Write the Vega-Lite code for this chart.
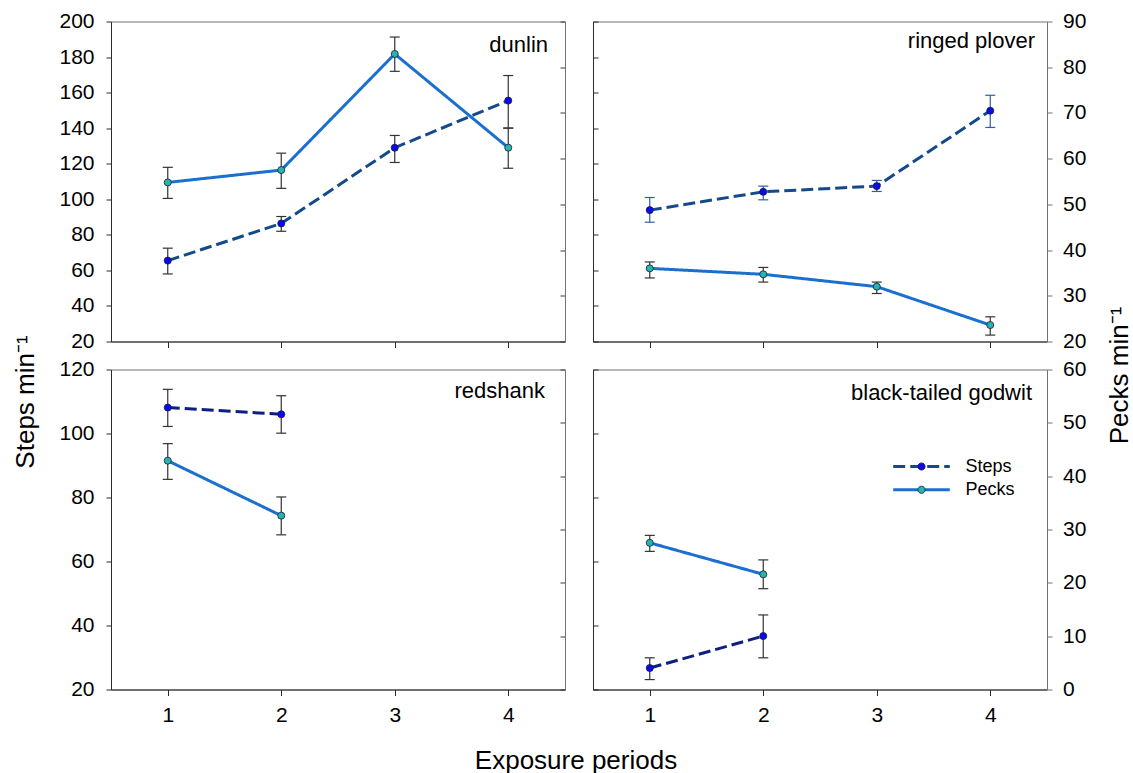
{
  "$schema": "https://vega.github.io/schema/vega-lite/v6.json",
  "background": "white",
  "padding": {"left": 12, "top": 9.5, "right": 0, "bottom": 2},
  "datasets": {
    "birds": [
      {"species": "dunlin", "period": 1, "measure": "Steps", "mean": 65.5, "lo": 58.0, "hi": 72.5},
      {"species": "dunlin", "period": 2, "measure": "Steps", "mean": 86.4, "lo": 82.0, "hi": 90.3},
      {"species": "dunlin", "period": 3, "measure": "Steps", "mean": 129.0, "lo": 120.7, "hi": 135.9},
      {"species": "dunlin", "period": 4, "measure": "Steps", "mean": 155.5, "lo": 140.0, "hi": 169.6},
      {"species": "dunlin", "period": 1, "measure": "Pecks", "mean": 54.8, "lo": 51.3, "hi": 58.1},
      {"species": "dunlin", "period": 2, "measure": "Pecks", "mean": 57.5, "lo": 53.5, "hi": 61.2},
      {"species": "dunlin", "period": 3, "measure": "Pecks", "mean": 82.9, "lo": 79.1, "hi": 86.6},
      {"species": "dunlin", "period": 4, "measure": "Pecks", "mean": 62.4, "lo": 57.9, "hi": 66.7},
      {"species": "ringed plover", "period": 1, "measure": "Steps", "mean": 93.9, "lo": 87.1, "hi": 101.0},
      {"species": "ringed plover", "period": 2, "measure": "Steps", "mean": 104.2, "lo": 99.7, "hi": 107.4},
      {"species": "ringed plover", "period": 3, "measure": "Steps", "mean": 107.4, "lo": 104.4, "hi": 110.6},
      {"species": "ringed plover", "period": 4, "measure": "Steps", "mean": 149.8, "lo": 140.4, "hi": 158.5},
      {"species": "ringed plover", "period": 1, "measure": "Pecks", "mean": 36.0, "lo": 33.9, "hi": 37.4},
      {"species": "ringed plover", "period": 2, "measure": "Pecks", "mean": 34.7, "lo": 33.0, "hi": 36.2},
      {"species": "ringed plover", "period": 3, "measure": "Pecks", "mean": 32.0, "lo": 30.5, "hi": 33.0},
      {"species": "ringed plover", "period": 4, "measure": "Pecks", "mean": 23.6, "lo": 21.4, "hi": 25.4},
      {"species": "redshank", "period": 1, "measure": "Steps", "mean": 108.1, "lo": 102.2, "hi": 113.8},
      {"species": "redshank", "period": 2, "measure": "Steps", "mean": 106.0, "lo": 100.1, "hi": 111.8},
      {"species": "redshank", "period": 1, "measure": "Pecks", "mean": 42.9, "lo": 39.4, "hi": 46.1},
      {"species": "redshank", "period": 2, "measure": "Pecks", "mean": 32.6, "lo": 29.0, "hi": 36.1},
      {"species": "black-tailed godwit", "period": 1, "measure": "Steps", "mean": 26.7, "lo": 23.1, "hi": 29.9},
      {"species": "black-tailed godwit", "period": 2, "measure": "Steps", "mean": 36.7, "lo": 29.9, "hi": 43.3},
      {"species": "black-tailed godwit", "period": 1, "measure": "Pecks", "mean": 27.5, "lo": 25.9, "hi": 28.9},
      {"species": "black-tailed godwit", "period": 2, "measure": "Pecks", "mean": 21.6, "lo": 18.9, "hi": 24.3}
    ]
  },
  "data": {"name": "birds"},
  "columns": 2,
  "spacing": 28,
  "bounds": "flush",
  "concat": [
    {
      "width": 454, "height": 320,
      "title": {"text": "dunlin", "dx": -17, "dy": 50.5},
      "transform": [{"filter": "datum.species === 'dunlin'"}],
      "encoding": {
        "x": {"field": "period", "type": "quantitative", "scale": {"domain": [0.5, 4.5], "nice": false, "zero": false},
              "axis": {"values": [1, 2, 3, 4], "labels": false, "title": null, "tickSize": 6}}
      },
      "layer": [
        {
          "transform": [{"filter": "datum.measure === 'Steps'"}],
          "layer": [
            {"mark": {"type": "rule", "color": "#333333", "strokeWidth": 1.2},
             "encoding": {"y": {"field": "lo", "type": "quantitative", "scale": {"domain": [20, 200], "nice": false},
                                "axis": {"orient": "left", "values": [20, 40, 60, 80, 100, 120, 140, 160, 180, 200], "tickCount": 20,
                                         "title": "Steps min⁻¹", "tickSize": 5, "labelPadding": 12,
                                         "titleAngle": 270, "titleX": -77.5, "titleY": 380, "titleAlign": "center", "titleBaseline": "alphabetic"}},
                          "y2": {"field": "hi"}}},
            {"mark": {"type": "tick", "orient": "horizontal", "size": 10, "thickness": 1.2, "color": "#333333", "opacity": 1},
             "encoding": {"y": {"field": "lo", "type": "quantitative", "scale": {"domain": [20, 200], "nice": false}}}},
            {"mark": {"type": "tick", "orient": "horizontal", "size": 10, "thickness": 1.2, "color": "#333333", "opacity": 1},
             "encoding": {"y": {"field": "hi", "type": "quantitative", "scale": {"domain": [20, 200], "nice": false}}}},
            {"mark": {"type": "line", "strokeWidth": 3},
             "encoding": {
               "y": {"field": "mean", "type": "quantitative", "scale": {"domain": [20, 200], "nice": false}},
               "color": {"field": "measure", "type": "nominal", "scale": {"domain": ["Steps", "Pecks"], "range": ["#154a8a", "#1a6fcf"]},
                         "legend": {"orient": "none", "legendX": 801.5, "legendY": 436, "title": null, "values": ["Steps", "Pecks"],
                                    "symbolType": "M-5,0H5", "symbolSize": 128, "symbolStrokeWidth": 3, "symbolOpacity": 1,
                                    "labelFontSize": 18, "labelOffset": 35, "rowPadding": 5.3, "padding": 0}},
               "strokeDash": {"field": "measure", "type": "nominal", "scale": {"domain": ["Steps", "Pecks"], "range": [[12, 5], [1, 0]]}}
             }},
            {"mark": {"type": "point", "filled": true, "size": 50, "opacity": 1, "stroke": "#1b1b3b", "strokeWidth": 0.8},
             "encoding": {
               "y": {"field": "mean", "type": "quantitative", "scale": {"domain": [20, 200], "nice": false}},
               "fill": {"field": "measure", "type": "nominal", "scale": {"domain": ["Pecks", "Steps"], "range": ["#25b5ad", "#0a0aee"]},
                        "legend": {"orient": "none", "legendX": 801.5, "legendY": 436, "title": null, "values": ["Steps", "Pecks"],
                                   "symbolType": "M0.64,0A0.64,0.64,0,1,1,-0.64,0A0.64,0.64,0,1,1,0.64,0Z", "symbolSize": 128,
                                   "symbolStrokeColor": "#1b1b3b", "symbolStrokeWidth": 0.8, "symbolOpacity": 1,
                                   "labelFontSize": 18, "labelOffset": 35, "labelOpacity": 0, "rowPadding": 5.3, "padding": 0}}
             }}
          ]
        },
        {
          "transform": [{"filter": "datum.measure === 'Pecks'"}],
          "layer": [
            {"mark": {"type": "rule", "color": "#333333", "strokeWidth": 1.2},
             "encoding": {"y": {"field": "lo", "type": "quantitative", "scale": {"domain": [20, 90], "nice": false},
                                "axis": {"orient": "right", "values": [20, 30, 40, 50, 60, 70, 80, 90], "tickCount": 20, "labels": false, "title": null, "tickSize": -5, "domainColor": "#707070", "tickColor": "#3a3a3a"}},
                          "y2": {"field": "hi"}}},
            {"mark": {"type": "tick", "orient": "horizontal", "size": 10, "thickness": 1.2, "color": "#333333", "opacity": 1},
             "encoding": {"y": {"field": "lo", "type": "quantitative", "scale": {"domain": [20, 90], "nice": false}}}},
            {"mark": {"type": "tick", "orient": "horizontal", "size": 10, "thickness": 1.2, "color": "#333333", "opacity": 1},
             "encoding": {"y": {"field": "hi", "type": "quantitative", "scale": {"domain": [20, 90], "nice": false}}}},
            {"mark": {"type": "line", "strokeWidth": 3},
             "encoding": {
               "y": {"field": "mean", "type": "quantitative", "scale": {"domain": [20, 90], "nice": false}},
               "color": {"field": "measure", "type": "nominal", "scale": {"domain": ["Steps", "Pecks"], "range": ["#154a8a", "#1a6fcf"]}},
               "strokeDash": {"field": "measure", "type": "nominal", "scale": {"domain": ["Steps", "Pecks"], "range": [[12, 5], [1, 0]]}}
             }},
            {"mark": {"type": "point", "filled": true, "size": 50, "opacity": 1, "stroke": "#1b1b3b", "strokeWidth": 0.8},
             "encoding": {
               "y": {"field": "mean", "type": "quantitative", "scale": {"domain": [20, 90], "nice": false}},
               "fill": {"field": "measure", "type": "nominal", "scale": {"domain": ["Pecks", "Steps"], "range": ["#25b5ad", "#0a0aee"]}}
             }}
          ]
        }
      ],
      "resolve": {"scale": {"y": "independent"}}
    },
    {
      "width": 454, "height": 320,
      "title": {"text": "ringed plover", "dx": -12, "dy": 46.5},
      "transform": [{"filter": "datum.species === 'ringed plover'"}],
      "encoding": {
        "x": {"field": "period", "type": "quantitative", "scale": {"domain": [0.5, 4.5], "nice": false, "zero": false},
              "axis": {"values": [1, 2, 3, 4], "labels": false, "title": null, "tickSize": 6}}
      },
      "layer": [
        {
          "transform": [{"filter": "datum.measure === 'Steps'"}],
          "layer": [
            {"mark": {"type": "rule", "color": "#2f5f9f", "strokeWidth": 1.2},
             "encoding": {"y": {"field": "lo", "type": "quantitative", "scale": {"domain": [20, 200], "nice": false},
                                "axis": {"orient": "left", "values": [20, 40, 60, 80, 100, 120, 140, 160, 180, 200], "tickCount": 20, "labels": false, "title": null, "tickSize": -5}},
                          "y2": {"field": "hi"}}},
            {"mark": {"type": "tick", "orient": "horizontal", "size": 10, "thickness": 1.2, "color": "#2f5f9f", "opacity": 1},
             "encoding": {"y": {"field": "lo", "type": "quantitative", "scale": {"domain": [20, 200], "nice": false}}}},
            {"mark": {"type": "tick", "orient": "horizontal", "size": 10, "thickness": 1.2, "color": "#2f5f9f", "opacity": 1},
             "encoding": {"y": {"field": "hi", "type": "quantitative", "scale": {"domain": [20, 200], "nice": false}}}},
            {"mark": {"type": "line", "strokeWidth": 3},
             "encoding": {
               "y": {"field": "mean", "type": "quantitative", "scale": {"domain": [20, 200], "nice": false}},
               "color": {"field": "measure", "type": "nominal", "scale": {"domain": ["Steps", "Pecks"], "range": ["#154a8a", "#1a6fcf"]}},
               "strokeDash": {"field": "measure", "type": "nominal", "scale": {"domain": ["Steps", "Pecks"], "range": [[12, 5], [1, 0]]}}
             }},
            {"mark": {"type": "point", "filled": true, "size": 50, "opacity": 1, "stroke": "#1b1b3b", "strokeWidth": 0.8},
             "encoding": {
               "y": {"field": "mean", "type": "quantitative", "scale": {"domain": [20, 200], "nice": false}},
               "fill": {"field": "measure", "type": "nominal", "scale": {"domain": ["Pecks", "Steps"], "range": ["#25b5ad", "#0a0aee"]}}
             }}
          ]
        },
        {
          "transform": [{"filter": "datum.measure === 'Pecks'"}],
          "layer": [
            {"mark": {"type": "rule", "color": "#333333", "strokeWidth": 1.2},
             "encoding": {"y": {"field": "lo", "type": "quantitative", "scale": {"domain": [20, 90], "nice": false},
                                "axis": {"orient": "right", "values": [20, 30, 40, 50, 60, 70, 80, 90], "tickCount": 20,
                                         "title": "Pecks min⁻¹", "tickSize": 5, "labelPadding": 10.5,
                                         "domainColor": "#707070", "tickColor": "#707070",
                                         "titleAngle": 270, "titleX": 80, "titleY": 353.5, "titleAlign": "center", "titleBaseline": "alphabetic"}},
                          "y2": {"field": "hi"}}},
            {"mark": {"type": "tick", "orient": "horizontal", "size": 10, "thickness": 1.2, "color": "#333333", "opacity": 1},
             "encoding": {"y": {"field": "lo", "type": "quantitative", "scale": {"domain": [20, 90], "nice": false}}}},
            {"mark": {"type": "tick", "orient": "horizontal", "size": 10, "thickness": 1.2, "color": "#333333", "opacity": 1},
             "encoding": {"y": {"field": "hi", "type": "quantitative", "scale": {"domain": [20, 90], "nice": false}}}},
            {"mark": {"type": "line", "strokeWidth": 3},
             "encoding": {
               "y": {"field": "mean", "type": "quantitative", "scale": {"domain": [20, 90], "nice": false}},
               "color": {"field": "measure", "type": "nominal", "scale": {"domain": ["Steps", "Pecks"], "range": ["#154a8a", "#1a6fcf"]}},
               "strokeDash": {"field": "measure", "type": "nominal", "scale": {"domain": ["Steps", "Pecks"], "range": [[12, 5], [1, 0]]}}
             }},
            {"mark": {"type": "point", "filled": true, "size": 50, "opacity": 1, "stroke": "#1b1b3b", "strokeWidth": 0.8},
             "encoding": {
               "y": {"field": "mean", "type": "quantitative", "scale": {"domain": [20, 90], "nice": false}},
               "fill": {"field": "measure", "type": "nominal", "scale": {"domain": ["Pecks", "Steps"], "range": ["#25b5ad", "#0a0aee"]}}
             }}
          ]
        }
      ],
      "resolve": {"scale": {"y": "independent"}}
    },
    {
      "width": 454, "height": 320,
      "title": {"text": "redshank", "dx": -20, "dy": 48},
      "transform": [{"filter": "datum.species === 'redshank'"}],
      "encoding": {
        "x": {"field": "period", "type": "quantitative", "scale": {"domain": [0.5, 4.5], "nice": false, "zero": false},
              "axis": {"values": [1, 2, 3, 4], "title": "Exposure periods", "tickSize": 6, "labelPadding": 9,
                       "titleX": 464.5, "titleY": 78.5, "titleAlign": "center", "titleBaseline": "alphabetic", "titleAngle": 0}}
      },
      "layer": [
        {
          "transform": [{"filter": "datum.measure === 'Steps'"}],
          "layer": [
            {"mark": {"type": "rule", "color": "#333333", "strokeWidth": 1.2},
             "encoding": {"y": {"field": "lo", "type": "quantitative", "scale": {"domain": [20, 120], "nice": false},
                                "axis": {"orient": "left", "values": [20, 40, 60, 80, 100, 120], "tickCount": 20, "title": null, "tickSize": 5, "labelPadding": 12}},
                          "y2": {"field": "hi"}}},
            {"mark": {"type": "tick", "orient": "horizontal", "size": 10, "thickness": 1.2, "color": "#333333", "opacity": 1},
             "encoding": {"y": {"field": "lo", "type": "quantitative", "scale": {"domain": [20, 120], "nice": false}}}},
            {"mark": {"type": "tick", "orient": "horizontal", "size": 10, "thickness": 1.2, "color": "#333333", "opacity": 1},
             "encoding": {"y": {"field": "hi", "type": "quantitative", "scale": {"domain": [20, 120], "nice": false}}}},
            {"mark": {"type": "line", "strokeWidth": 3, "color": "#0d1f80"},
             "encoding": {
               "y": {"field": "mean", "type": "quantitative", "scale": {"domain": [20, 120], "nice": false}},
               "strokeDash": {"field": "measure", "type": "nominal", "scale": {"domain": ["Steps", "Pecks"], "range": [[12, 5], [1, 0]]}}
             }},
            {"mark": {"type": "point", "filled": true, "size": 50, "opacity": 1, "stroke": "#1b1b3b", "strokeWidth": 0.8},
             "encoding": {
               "y": {"field": "mean", "type": "quantitative", "scale": {"domain": [20, 120], "nice": false}},
               "fill": {"field": "measure", "type": "nominal", "scale": {"domain": ["Pecks", "Steps"], "range": ["#25b5ad", "#0a0aee"]}}
             }}
          ]
        },
        {
          "transform": [{"filter": "datum.measure === 'Pecks'"}],
          "layer": [
            {"mark": {"type": "rule", "color": "#333333", "strokeWidth": 1.2},
             "encoding": {"y": {"field": "lo", "type": "quantitative", "scale": {"domain": [0, 60], "nice": false},
                                "axis": {"orient": "right", "values": [0, 10, 20, 30, 40, 50, 60], "tickCount": 20, "labels": false, "title": null, "tickSize": -5, "domainColor": "#707070", "tickColor": "#3a3a3a"}},
                          "y2": {"field": "hi"}}},
            {"mark": {"type": "tick", "orient": "horizontal", "size": 10, "thickness": 1.2, "color": "#333333", "opacity": 1},
             "encoding": {"y": {"field": "lo", "type": "quantitative", "scale": {"domain": [0, 60], "nice": false}}}},
            {"mark": {"type": "tick", "orient": "horizontal", "size": 10, "thickness": 1.2, "color": "#333333", "opacity": 1},
             "encoding": {"y": {"field": "hi", "type": "quantitative", "scale": {"domain": [0, 60], "nice": false}}}},
            {"mark": {"type": "line", "strokeWidth": 3, "color": "#1a6fcf"},
             "encoding": {
               "y": {"field": "mean", "type": "quantitative", "scale": {"domain": [0, 60], "nice": false}},
               "strokeDash": {"field": "measure", "type": "nominal", "scale": {"domain": ["Steps", "Pecks"], "range": [[12, 5], [1, 0]]}}
             }},
            {"mark": {"type": "point", "filled": true, "size": 50, "opacity": 1, "stroke": "#1b1b3b", "strokeWidth": 0.8},
             "encoding": {
               "y": {"field": "mean", "type": "quantitative", "scale": {"domain": [0, 60], "nice": false}},
               "fill": {"field": "measure", "type": "nominal", "scale": {"domain": ["Pecks", "Steps"], "range": ["#25b5ad", "#0a0aee"]}}
             }}
          ]
        }
      ],
      "resolve": {"scale": {"y": "independent"}}
    },
    {
      "width": 454, "height": 320,
      "title": {"text": "black-tailed godwit", "dx": -15, "dy": 50},
      "transform": [{"filter": "datum.species === 'black-tailed godwit'"}],
      "encoding": {
        "x": {"field": "period", "type": "quantitative", "scale": {"domain": [0.5, 4.5], "nice": false, "zero": false},
              "axis": {"values": [1, 2, 3, 4], "title": null, "tickSize": 6, "labelPadding": 9}}
      },
      "layer": [
        {
          "transform": [{"filter": "datum.measure === 'Steps'"}],
          "layer": [
            {"mark": {"type": "rule", "color": "#333333", "strokeWidth": 1.2},
             "encoding": {"y": {"field": "lo", "type": "quantitative", "scale": {"domain": [20, 120], "nice": false},
                                "axis": {"orient": "left", "values": [20, 40, 60, 80, 100, 120], "tickCount": 20, "labels": false, "title": null, "tickSize": -5}},
                          "y2": {"field": "hi"}}},
            {"mark": {"type": "tick", "orient": "horizontal", "size": 10, "thickness": 1.2, "color": "#333333", "opacity": 1},
             "encoding": {"y": {"field": "lo", "type": "quantitative", "scale": {"domain": [20, 120], "nice": false}}}},
            {"mark": {"type": "tick", "orient": "horizontal", "size": 10, "thickness": 1.2, "color": "#333333", "opacity": 1},
             "encoding": {"y": {"field": "hi", "type": "quantitative", "scale": {"domain": [20, 120], "nice": false}}}},
            {"mark": {"type": "line", "strokeWidth": 3, "color": "#0d1f80"},
             "encoding": {
               "y": {"field": "mean", "type": "quantitative", "scale": {"domain": [20, 120], "nice": false}},
               "strokeDash": {"field": "measure", "type": "nominal", "scale": {"domain": ["Steps", "Pecks"], "range": [[12, 5], [1, 0]]}}
             }},
            {"mark": {"type": "point", "filled": true, "size": 50, "opacity": 1, "stroke": "#1b1b3b", "strokeWidth": 0.8},
             "encoding": {
               "y": {"field": "mean", "type": "quantitative", "scale": {"domain": [20, 120], "nice": false}},
               "fill": {"field": "measure", "type": "nominal", "scale": {"domain": ["Pecks", "Steps"], "range": ["#25b5ad", "#0a0aee"]}}
             }}
          ]
        },
        {
          "transform": [{"filter": "datum.measure === 'Pecks'"}],
          "layer": [
            {"mark": {"type": "rule", "color": "#333333", "strokeWidth": 1.2},
             "encoding": {"y": {"field": "lo", "type": "quantitative", "scale": {"domain": [0, 60], "nice": false},
                                "axis": {"orient": "right", "values": [0, 10, 20, 30, 40, 50, 60], "tickCount": 20, "title": null, "tickSize": 5, "labelPadding": 10.5,
                                         "domainColor": "#707070", "tickColor": "#707070"}},
                          "y2": {"field": "hi"}}},
            {"mark": {"type": "tick", "orient": "horizontal", "size": 10, "thickness": 1.2, "color": "#333333", "opacity": 1},
             "encoding": {"y": {"field": "lo", "type": "quantitative", "scale": {"domain": [0, 60], "nice": false}}}},
            {"mark": {"type": "tick", "orient": "horizontal", "size": 10, "thickness": 1.2, "color": "#333333", "opacity": 1},
             "encoding": {"y": {"field": "hi", "type": "quantitative", "scale": {"domain": [0, 60], "nice": false}}}},
            {"mark": {"type": "line", "strokeWidth": 3, "color": "#1a6fcf"},
             "encoding": {
               "y": {"field": "mean", "type": "quantitative", "scale": {"domain": [0, 60], "nice": false}},
               "strokeDash": {"field": "measure", "type": "nominal", "scale": {"domain": ["Steps", "Pecks"], "range": [[12, 5], [1, 0]]}}
             }},
            {"mark": {"type": "point", "filled": true, "size": 50, "opacity": 1, "stroke": "#1b1b3b", "strokeWidth": 0.8},
             "encoding": {
               "y": {"field": "mean", "type": "quantitative", "scale": {"domain": [0, 60], "nice": false}},
               "fill": {"field": "measure", "type": "nominal", "scale": {"domain": ["Pecks", "Steps"], "range": ["#25b5ad", "#0a0aee"]}}
             }}
          ]
        }
      ],
      "resolve": {"scale": {"y": "independent"}}
    }
  ],
  "config": {
    "font": "Liberation Sans",
    "view": {"stroke": "#707070", "strokeWidth": 1},
    "axis": {
      "grid": false, "labelFont": "Liberation Sans", "labelFontSize": 21, "labelColor": "#000000", "labelFlush": false, "labelOverlap": false,
      "domainColor": "#2a2a2a", "domainWidth": 1, "tickColor": "#2a2a2a", "tickWidth": 1,
      "titleFont": "Liberation Sans", "titleFontSize": 26, "titleFontWeight": "normal", "titleColor": "#000000"
    },
    "title": {"font": "Liberation Sans", "fontSize": 22, "fontWeight": "normal", "color": "#000000",
              "anchor": "end", "orient": "top", "offset": 0, "baseline": "alphabetic", "frame": "group"},
    "legend": {"labelFont": "Liberation Sans", "labelColor": "#000000"}
  }
}
